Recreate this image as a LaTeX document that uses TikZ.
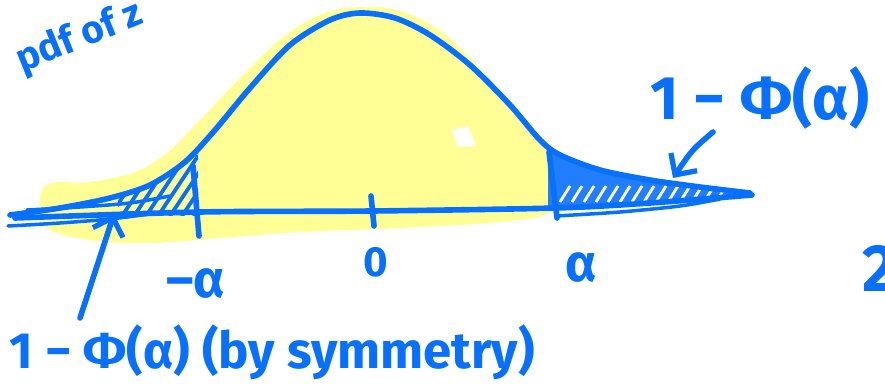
\documentclass[tikz,border=0pt]{standalone}
\usepackage{fontspec}
\setsansfont{Fira Sans}
\usetikzlibrary{arrows.meta}
\definecolor{pen}{RGB}{8,112,255}
\definecolor{hl}{RGB}{255,255,150}
\begin{document}
\begin{tikzpicture}[x=0.02cm,y=-0.02cm,
  pen/.style={draw=pen,line width=3.2pt,line cap=round,line join=round},
  thin pen/.style={draw=pen,line width=2pt,line cap=round,line join=round},
  hatch/.style={draw=pen,line width=2.2pt,line cap=round},
  lbl/.style={text=pen,font=\sffamily,inner sep=0pt},
  barb/.style={-{Straight Barb[length=9pt,width=18pt,line width=3pt]}}]
\useasboundingbox (0,0) rectangle (885,391);
\clip (0,0) rectangle (885,391);
% yellow highlight
\fill[hl] plot[smooth cycle,tension=0.6] coordinates {(45,186) (90,182) (135,172) (168,152) (198,122) (240,78) (282,38) (322,14) (360,7) (400,11) (442,32) (482,70) (516,110) (544,144) (556,182) (550,212) (500,222) (400,228) (300,232) (220,238) (150,243) (90,240) (45,226)};
\fill[white] (452,130) -- (468,126) -- (476,146) -- (458,147) -- cycle;
% hatching, left tail
\begin{scope}
  \clip (118,0) rectangle (198,216);
  \clip plot[smooth] coordinates {(10,215) (60,208) (110,198) (150,185) (185,162) (215,130) (250,88) (290,45) (330,20) (360,13) (395,18) (430,35) (470,65) (510,105) (540,140) (560,155) (600,170) (650,180) (700,187) (750,193)} -- (750,216) -- (10,216) -- cycle;
  \foreach \x in {110,122,...,200} \draw[hatch] (\x,216) -- (\x+40,156);
\end{scope}
% hatching, right tail
\begin{scope}
  \clip plot[smooth] coordinates {(540,140) (560,155) (600,170) (650,180) (700,187) (752,194)} -- plot[smooth] coordinates {(752,196) (700,200) (650,204) (600,207) (548,209)} -- cycle;
  \clip (548,0) rectangle (760,230);
  \fill[pen!90!white] (540,130) rectangle (760,230);
  \foreach \x in {560,572,...,740} \draw[white,line width=1.6pt] (\x,202) -- (\x+10,186);
\end{scope}
% bell curve
\draw[pen] plot[smooth] coordinates {(10,215) (60,208) (110,198) (150,185) (185,162) (215,130) (250,88) (290,45) (330,20) (360,13) (395,18) (430,35) (470,65) (510,105) (540,140) (560,155) (600,170) (650,180) (700,187) (750,193)};
% extra tail strokes
\draw[thin pen] plot[smooth] coordinates {(27,210) (80,207) (130,203) (170,196)};
\draw[thin pen] plot[smooth] coordinates {(8,226) (60,223) (110,219) (150,214)};
\draw[thin pen] plot[smooth] coordinates {(556,216) (620,212) (680,206) (720,199)};
% axis
\draw[pen] plot[smooth] coordinates {(15,218) (200,212) (372,211) (556,208) (650,203) (752,195)};
% ticks
\draw[pen] (193,166) -- (199,236);
\draw[pen] (371,196) -- (374,226);
\draw[pen] (549,152) -- (557,218);
% tick labels
\node[lbl,font=\sffamily\bfseries\fontsize{30}{34}\selectfont] (lma) at (196,284) {–α};
\node[lbl,font=\sffamily\bfseries\fontsize{24}{28}\selectfont] (lzero) at (376,262) {0};
\node[lbl,font=\sffamily\bfseries\fontsize{30}{34}\selectfont] (la) at (581,268) {α};
% labels
\node[lbl,rotate=22,font=\sffamily\bfseries\fontsize{22}{26}\selectfont] (title) at (80,38) {pdf of z};
\node[lbl,font=\sffamily\bfseries\fontsize{35}{40}\selectfont] (rlab) at (760,98) {1 − Φ(α)};
\node[lbl,font=\sffamily\bfseries\fontsize{29}{34}\selectfont] (llab) at (272,352) {1 − Φ(α) (by symmetry)};
\node[lbl,font=\sffamily\bfseries\fontsize{38}{42}\selectfont] (two) at (880,268) {2};
% pointers
\coordinate (rstart) at (713,132);
\coordinate (rtip) at (673,178);
\draw[pen,barb] (rstart) .. controls (692,150) .. (rtip);
\coordinate (lstart) at (80,318);
\coordinate (ltip) at (114,214);
\draw[pen,barb] (lstart) -- (ltip);
\end{tikzpicture}
\end{document}
